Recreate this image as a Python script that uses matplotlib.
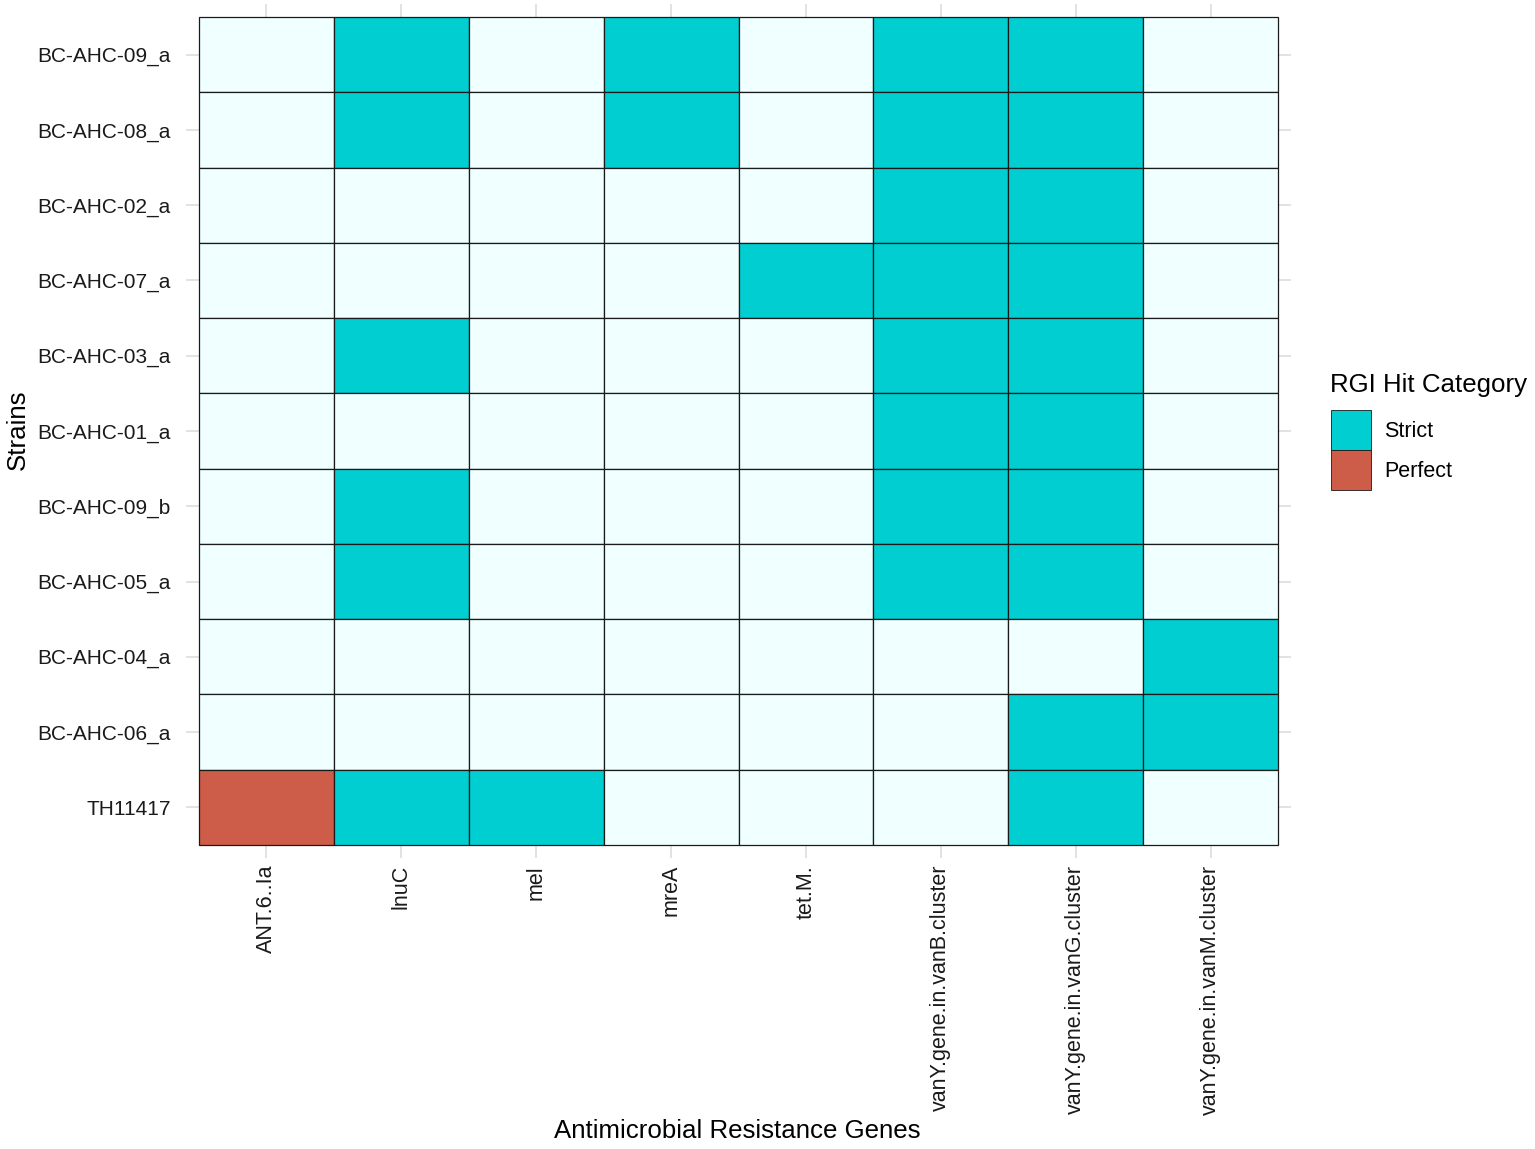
import matplotlib
matplotlib.use("Agg")
import matplotlib.pyplot as plt
from matplotlib.patches import Rectangle, Patch

plt.rcParams["font.family"] = ["Liberation Sans", "DejaVu Sans"]

# dades llegides del grafic
genes = ["ANT.6..Ia", "lnuC", "mel", "mreA", "tet.M.",
         "vanY.gene.in.vanB.cluster", "vanY.gene.in.vanG.cluster",
         "vanY.gene.in.vanM.cluster"]
strains = ["BC-AHC-09_a", "BC-AHC-08_a", "BC-AHC-02_a", "BC-AHC-07_a",
           "BC-AHC-03_a", "BC-AHC-01_a", "BC-AHC-09_b", "BC-AHC-05_a",
           "BC-AHC-04_a", "BC-AHC-06_a", "TH11417"]
# "" = sense hit, "S" = Strict, "P" = Perfect
hits = [
    ["", "S", "", "S", "", "S", "S", ""],
    ["", "S", "", "S", "", "S", "S", ""],
    ["", "", "", "", "", "S", "S", ""],
    ["", "", "", "", "S", "S", "S", ""],
    ["", "S", "", "", "", "S", "S", ""],
    ["", "", "", "", "", "S", "S", ""],
    ["", "S", "", "", "", "S", "S", ""],
    ["", "S", "", "", "", "S", "S", ""],
    ["", "", "", "", "", "", "", "S"],
    ["", "", "", "", "", "", "S", "S"],
    ["P", "S", "S", "", "", "", "S", ""],
]
colors = {"": "#F0FFFF", "S": "#00CED1", "P": "#CD5C48"}

W, H = 1535, 1149
fig = plt.figure(figsize=(W / 100, H / 100), dpi=100)
left, right, top, bottom = 186, 1291, 4, 858
ax = fig.add_axes([left / W, 1 - bottom / H, (right - left) / W, (bottom - top) / H])

n_r = len(strains)
n_c = len(genes)
px_x = (1278 - 198) / n_c
px_y = (845 - 17) / n_r
padx = 13 / px_x
pady = 13 / px_y
ax.set_xlim(-0.5 - padx, n_c - 0.5 + padx)
ax.set_ylim(-0.5 - pady, n_r - 0.5 + pady)

for i, s in enumerate(strains):
    y = n_r - 1 - i
    for j, g in enumerate(genes):
        ax.add_patch(Rectangle((j - 0.5, y - 0.5), 1, 1, facecolor=colors[hits[i][j]],
                               edgecolor="#1a1a1a", linewidth=0.9, zorder=3))

ax.set_xticks(range(n_c))
ax.set_xticklabels(genes, rotation=90, fontsize=15.5, color="#1a1a1a")
ax.set_yticks([n_r - 1 - i for i in range(n_r)])
ax.set_yticklabels(strains, fontsize=15, color="#1a1a1a")
ax.tick_params(axis="x", length=0, pad=5)
ax.tick_params(axis="y", length=0, pad=11)
ax.grid(True, color="#DDDDDD", linewidth=1.2, zorder=0)
ax.set_axisbelow(True)
for sp in ax.spines.values():
    sp.set_visible(False)

fig.text(737 / W, 1 - 1131 / H, "Antimicrobial Resistance Genes", fontsize=18.6,
         ha="center", va="center")
fig.text(18 / W, 1 - 430 / H, "Strains", fontsize=18.6, rotation=90,
         ha="center", va="center")

# llegenda: titol a part per controlar l'espai fins a les claus
fig.text(1330 / W, 1 - 385 / H, "RGI Hit Category", fontsize=18.6,
         ha="left", va="center")
handles = [Patch(facecolor=colors["S"], edgecolor="#1a1a1a", linewidth=0.6, label="Strict"),
           Patch(facecolor=colors["P"], edgecolor="#1a1a1a", linewidth=0.6, label="Perfect")]
leg = fig.legend(handles=handles, loc="upper left",
                 bbox_to_anchor=(1331 / W, 1 - 410 / H), frameon=False, fontsize=15.5,
                 handlelength=1.86, handleheight=2.48,
                 labelspacing=0.0, handletextpad=0.6, borderaxespad=0, borderpad=0)

fig.savefig("out.png", dpi=100)
